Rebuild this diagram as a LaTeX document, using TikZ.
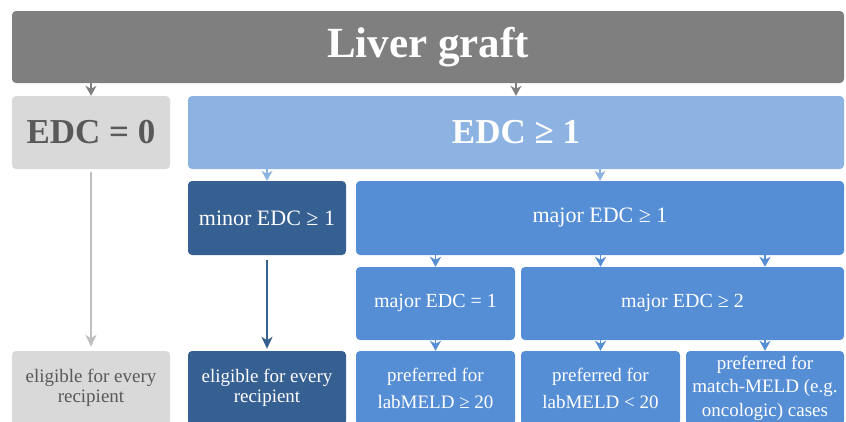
\documentclass[tikz,border=0pt]{standalone}
\usepackage{fontspec}
\setmainfont{Liberation Serif}
\usetikzlibrary{arrows.meta}
\definecolor{gbox}{HTML}{7F7F7F}
\definecolor{lgbox}{HTML}{D9D9D9}
\definecolor{gtext}{HTML}{595959}
\definecolor{lblue}{HTML}{8DB3E2}
\definecolor{mblue}{HTML}{558ED5}
\definecolor{dblue}{HTML}{366092}
\definecolor{garrow}{HTML}{BFBFBF}
\tikzset{
  box/.style={rounded corners=4pt, inner sep=0pt, align=center, draw=none},
  smallarr/.style={line width=1.5pt, -{Stealth[width=11pt,length=10pt,inset=3pt]}},
  longarr/.style={-{Stealth[width=11pt,length=12pt,inset=3.5pt]}},
}
\begin{document}
\begin{tikzpicture}[x=1pt,y=-1pt]
\useasboundingbox (0,0) rectangle (846,421);
\clip (0,0) rectangle (846,421);
% level 0
\node[box, fill=gbox, text=white, minimum width=832pt, minimum height=72pt,
      font=\fontsize{43}{48}\selectfont\bfseries] (lg) at (428,47) {Liver graft};
% level 1
\node[box, fill=lgbox, text=gtext, minimum width=158pt, minimum height=73pt,
      font=\fontsize{35}{40}\selectfont\bfseries] (e0) at (91,132.5) {EDC = 0};
\node[box, fill=lblue, text=white, minimum width=656pt, minimum height=73pt,
      font=\fontsize{35}{40}\selectfont\bfseries] (e1) at (516,132.5) {EDC ≥ 1};
% level 2
\node[box, fill=dblue, text=white, minimum width=158pt, minimum height=74pt,
      font=\fontsize{22}{26}\selectfont] (minor) at (267,218) {minor EDC ≥ 1};
\node[box, fill=mblue, text=white, minimum width=488pt, minimum height=74pt,
      font=\fontsize{22}{26}\selectfont] (major) at (600,218) {major EDC ≥ 1};
% level 3
\node[box, fill=mblue, text=white, minimum width=159pt, minimum height=73pt,
      font=\fontsize{20}{24}\selectfont] (meq) at (435.5,303.5) {major EDC = 1};
\node[box, fill=mblue, text=white, minimum width=323pt, minimum height=73pt,
      font=\fontsize{20}{24}\selectfont] (mge) at (682.5,303.5) {major EDC ≥ 2};
% level 4
\node[box, fill=lgbox, text=gtext, minimum width=158pt, minimum height=74pt,
      font=\fontsize{19}{20}\selectfont] (el0) at (91,388) {eligible for every\\recipient};
\node[box, fill=dblue, text=white, minimum width=158pt, minimum height=74pt,
      font=\fontsize{19}{20}\selectfont] (el1) at (267,388) {eligible for every\\recipient};
\node[box, fill=mblue, text=white, minimum width=159pt, minimum height=74pt,
      font=\fontsize{19}{27}\selectfont] (p20) at (435.5,388) {preferred for\\labMELD ≥ 20};
\node[box, fill=mblue, text=white, minimum width=159pt, minimum height=74pt,
      font=\fontsize{19}{27}\selectfont] (pl20) at (600.5,388) {preferred for\\labMELD < 20};
\node[box, fill=mblue, text=white, minimum width=158pt, minimum height=74pt,
      font=\fontsize{19}{23.5}\selectfont] (pm) at (765,388) {preferred for\\match-MELD (e.g.\\oncologic) cases};
% small arrows
\draw[smallarr, gbox] (e0.north |- lg.south) -- (e0.north);
\draw[smallarr, gbox] (e1.north |- lg.south) -- (e1.north);
\draw[smallarr, lblue] (minor.north |- e1.south) -- (minor.north);
\draw[smallarr, lblue] (major.north |- e1.south) -- (major.north);
\draw[smallarr, mblue] (meq.north |- major.south) -- (meq.north);
\draw[smallarr, mblue] (pl20.north |- major.south) -- (pl20.north |- mge.north);
\draw[smallarr, mblue] (pm.north |- major.south) -- (pm.north |- mge.north);
\draw[smallarr, mblue] (p20.north |- meq.south) -- (p20.north);
\draw[smallarr, mblue] (pl20.north |- mge.south) -- (pl20.north);
\draw[smallarr, mblue] (pm.north |- mge.south) -- (pm.north);
% long arrows
\draw[longarr, garrow, line width=2.8pt, shorten <=3pt, shorten >=4pt] (e0.south) -- (el0.north);
\draw[longarr, dblue, line width=2pt, shorten <=5pt, shorten >=2pt] (minor.south) -- (el1.north);
\end{tikzpicture}
\end{document}
